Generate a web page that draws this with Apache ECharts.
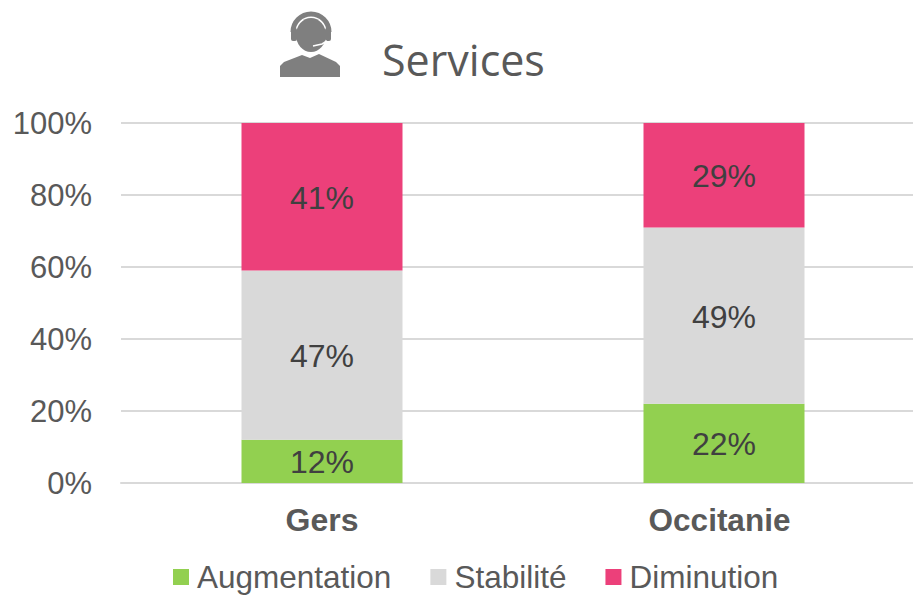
<!DOCTYPE html>
<html><head><meta charset="utf-8">
<style>html,body{margin:0;padding:0;background:#fff}#c{width:913px;height:596px}</style>
<script src="https://cdn.jsdelivr.net/npm/echarts@6/dist/echarts.min.js"></script></head>
<body><div id="c"></div>
<script>
const categories=['Gers','Occitanie'];
const augmentation=[12,22];
const stabilite=[47,49];
const diminution=[41,29];
const FONT='"Liberation Sans",Arial,sans-serif';
const ICON='#7f7f7f';
const chart=echarts.init(document.getElementById('c'),null,{renderer:'svg'});
const lab=()=>({show:true,position:'inside',offset:[0,1],formatter:p=>p.value+'%',color:'#404040',fontSize:32,fontFamily:FONT});
function s(name,data,color){return {name,type:'bar',stack:'a',data,barWidth:161,itemStyle:{color},label:lab()};}
chart.setOption({
 animation:false,
 title:{text:'Services',left:377,top:33,textStyle:{fontFamily:'"Open Sans"',fontSize:43,fontWeight:'normal',color:'#595959'}},
 legend:{top:561,left:173,itemWidth:16,itemHeight:16,itemGap:39,icon:'rect',padding:0,
  textStyle:{fontFamily:FONT,fontSize:31.5,lineHeight:30,color:'#595959',padding:[0,0,0,3]},
  data:['Augmentation','Stabilité','Diminution']},
 grid:{left:121,width:804,top:123,height:360,outerBoundsMode:'none'},
 xAxis:{type:'category',
  data:categories.map((c,i)=>({value:c,textStyle:i===1?{padding:[0,9,0,0],fontSize:31.5}:{}})),
  axisTick:{show:false},
  axisLine:{lineStyle:{color:'#d9d9d9',width:2}},
  axisLabel:{fontFamily:FONT,fontSize:32,fontWeight:'bold',color:'#595959',margin:21}},
 yAxis:{type:'value',min:0,max:100,interval:20,
  axisLabel:{formatter:'{value}%',fontFamily:FONT,fontSize:31,color:'#595959',margin:29},
  axisLine:{show:false},axisTick:{show:false},
  splitLine:{lineStyle:{color:'#d9d9d9',width:2}}},
 series:[s('Augmentation',augmentation,'#92d050'),s('Stabilité',stabilite,'#d9d9d9'),s('Diminution',diminution,'#ec407a')],
 graphic:[
  {type:'polygon',shape:{points:[[280,77],[280,66],[284,62],[302,55],[310,58],[319,54],[336,62],[340,66],[340,77]]},style:{fill:ICON}},
  {type:'arc',shape:{cx:311,cy:32,r:18,startAngle:Math.PI,endAngle:Math.PI*2},style:{stroke:ICON,lineWidth:5,fill:null}},
  {type:'ellipse',shape:{cx:311,cy:35,rx:15,ry:17},style:{fill:ICON}},
  {type:'rect',shape:{x:291,y:28,width:6,height:13,r:2},style:{fill:ICON}},
  {type:'rect',shape:{x:325,y:28,width:6,height:13,r:2},style:{fill:ICON}},
  {type:'polyline',shape:{points:[[327,41],[322,44],[313,46]]},style:{stroke:'#fff',lineWidth:1.5,fill:null}}
 ]
});
</script></body></html>
